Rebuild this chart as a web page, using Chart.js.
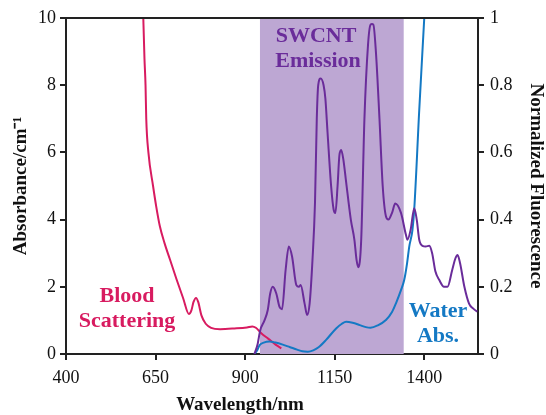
<!DOCTYPE html>
<html><head><meta charset="utf-8">
<script src="https://cdn.jsdelivr.net/npm/chart.js@4"></script>
<style>html,body{margin:0;padding:0;background:#fff}canvas{display:block}</style>
</head><body>
<canvas id="c" width="546" height="415"></canvas>
<script>
// ---- data ----
const xTicks = [400, 650, 900, 1150, 1400];
const yLeftTicks = [0, 2, 4, 6, 8, 10];
const yRightTicks = [0, 0.2, 0.4, 0.6, 0.8, 1];

const emissionWindow = [941, 1343];     // nm, SWCNT emission band
const emissionWindowTop = [10, 10];     // absorbance (full height)

const bloodNm  = [615, 619, 622, 624, 630, 643, 652, 662, 675, 690, 708, 727, 743, 750, 756, 763, 769, 778, 790, 805, 830, 870, 905, 920, 930, 945, 965, 985, 1001];
const bloodAbs = [10.3, 8.8, 8.0, 7.0, 6.0, 5.0, 4.38, 3.8, 3.3, 2.82, 2.24, 1.66, 1.19, 1.3, 1.55, 1.67, 1.55, 1.15, 0.9, 0.78, 0.74, 0.76, 0.79, 0.82, 0.78, 0.62, 0.45, 0.28, 0.17];

const waterNm  = [926, 933, 941, 952, 968, 985, 1005, 1024, 1045, 1060, 1075, 1090, 1105, 1126, 1154, 1170, 1182, 1200, 1220, 1237, 1250, 1270, 1293, 1310, 1321, 1335, 1344, 1352, 1358, 1367, 1372, 1386, 1400, 1410];
const waterAbs = [0, 0.1, 0.27, 0.34, 0.37, 0.34, 0.28, 0.21, 0.13, 0.08, 0.07, 0.11, 0.2, 0.42, 0.76, 0.9, 0.96, 0.93, 0.86, 0.8, 0.78, 0.85, 1.01, 1.25, 1.51, 1.9, 2.2, 2.7, 3.19, 3.69, 4.3, 7.26, 10, 12];

const fluorNm  = [926, 935, 942, 954, 963, 970, 977, 987, 996, 1003, 1013, 1022, 1031, 1043, 1050, 1055, 1066, 1073, 1080, 1088, 1095, 1100, 1104, 1111, 1119, 1124, 1130, 1140, 1147, 1152, 1158, 1163, 1168, 1174, 1181, 1195, 1205, 1211, 1216, 1224, 1233, 1243, 1250, 1254, 1258, 1265, 1275, 1284, 1293, 1300, 1310, 1319, 1335, 1349, 1353, 1362, 1372, 1379, 1386, 1395, 1404, 1414, 1422, 1431, 1442, 1455, 1465, 1478, 1487, 1493, 1500, 1512, 1525, 1537, 1548];
const fluorInt = [0, 0.03, 0.07, 0.1, 0.13, 0.18, 0.2, 0.18, 0.14, 0.133, 0.25, 0.32, 0.29, 0.205, 0.2, 0.205, 0.15, 0.116, 0.15, 0.28, 0.45, 0.7, 0.8, 0.82, 0.8, 0.76, 0.66, 0.5, 0.43, 0.42, 0.5, 0.59, 0.607, 0.58, 0.52, 0.4, 0.34, 0.28, 0.258, 0.34, 0.7, 0.92, 0.98, 0.982, 0.98, 0.9, 0.7, 0.5, 0.41, 0.4, 0.42, 0.448, 0.42, 0.354, 0.34, 0.37, 0.434, 0.4, 0.34, 0.322, 0.32, 0.322, 0.3, 0.246, 0.22, 0.2, 0.2, 0.25, 0.285, 0.295, 0.27, 0.2, 0.15, 0.135, 0.126];

const pts = (xs, ys) => xs.map((x, i) => ({ x, y: ys[i] }));

const SERIF = "'Liberation Serif', 'Times New Roman', serif";
const C_BLOOD = '#d81b60', C_WATER = '#1479c4', C_FLUOR = '#6a2c9a', C_BAND = '#bda7d3', C_AXIS = '#222';

const textPlugin = {
  id: 'texts',
  afterDraw(chart) {
    const ctx = chart.ctx, a = chart.chartArea;
    ctx.save();
    // top frame line
    ctx.strokeStyle = C_AXIS; ctx.lineWidth = 2;
    ctx.beginPath(); ctx.moveTo(a.left - 1, a.top); ctx.lineTo(a.right + 1, a.top); ctx.stroke();
    ctx.textAlign = 'center'; ctx.textBaseline = 'alphabetic';
    ctx.font = 'bold 22px ' + SERIF;
    ctx.fillStyle = C_FLUOR;
    ctx.fillText('SWCNT', 316, 42);
    ctx.fillText('Emission', 318, 67);
    ctx.fillStyle = C_BLOOD;
    ctx.fillText('Blood', 127, 302);
    ctx.fillText('Scattering', 127, 327);
    ctx.fillStyle = C_WATER;
    ctx.fillText('Water', 438, 317);
    ctx.fillText('Abs.', 438, 342);
    // axis titles
    ctx.fillStyle = '#111';
    ctx.font = 'bold 19px ' + SERIF;
    ctx.fillText('Wavelength/nm', 240, 410);
    ctx.save();
    ctx.translate(26, (a.top + a.bottom) / 2);
    ctx.rotate(-Math.PI / 2);
    ctx.fillText('Absorbance/cm\u207B\u00B9', 0, 0);
    ctx.restore();
    ctx.save();
    ctx.translate(531, (a.top + a.bottom) / 2);
    ctx.rotate(Math.PI / 2);
    ctx.fillText('Normalized Fluorescence', 0, 0);
    ctx.restore();
    ctx.restore();
  }
};

const gridCfg = { display: true, drawOnChartArea: false, drawTicks: true, tickLength: 6, color: C_AXIS, lineWidth: 2 };
const borderCfg = { display: true, color: C_AXIS, width: 2 };
const tickFont = { family: SERIF, size: 18 };

new Chart(document.getElementById('c'), {
  type: 'line',
  data: {
    datasets: [
      { label: 'SWCNT Emission', data: pts(fluorNm, fluorInt), yAxisID: 'y2', borderColor: C_FLUOR, borderWidth: 2, pointRadius: 0, cubicInterpolationMode: 'monotone', fill: false },
      { label: 'Water Abs.', data: pts(waterNm, waterAbs), yAxisID: 'y', borderColor: C_WATER, borderWidth: 2, pointRadius: 0, cubicInterpolationMode: 'monotone', fill: false },
      { label: 'Blood Scattering', data: pts(bloodNm, bloodAbs), yAxisID: 'y', borderColor: C_BLOOD, borderWidth: 2, pointRadius: 0, cubicInterpolationMode: 'monotone', fill: false },
      { label: 'Emission window', data: pts(emissionWindow, emissionWindowTop), yAxisID: 'y', borderWidth: 0, borderColor: 'rgba(0,0,0,0)', backgroundColor: C_BAND, pointRadius: 0, tension: 0, fill: 'origin' }
    ]
  },
  options: {
    responsive: false,
    animation: false,
    layout: { padding: { top: 18, left: 0, right: 0, bottom: 0 } },
    plugins: { legend: { display: false }, tooltip: { enabled: false } },
    scales: {
      x: {
        type: 'linear', position: 'bottom', min: 400, max: 1550,
        afterBuildTicks: s => { s.ticks = xTicks.map(v => ({ value: v })); },
        afterFit: s => { s.height = 61; },
        ticks: { font: tickFont, color: '#111', padding: 7, maxRotation: 0, autoSkip: false, callback: v => String(v) },
        grid: gridCfg, border: borderCfg
      },
      y: {
        type: 'linear', position: 'left', min: 0, max: 10,
        afterBuildTicks: s => { s.ticks = yLeftTicks.map(v => ({ value: v })); },
        afterFit: s => { s.width = 66; },
        ticks: { font: tickFont, color: '#111', padding: 4, autoSkip: false, callback: v => String(v) },
        grid: gridCfg, border: borderCfg
      },
      y2: {
        type: 'linear', position: 'right', min: 0, max: 1,
        afterBuildTicks: s => { s.ticks = yRightTicks.map(v => ({ value: v })); },
        afterFit: s => { s.width = 68; },
        ticks: { font: tickFont, color: '#111', padding: 6, autoSkip: false, callback: v => String(v) },
        grid: gridCfg, border: borderCfg
      }
    }
  },
  plugins: [textPlugin]
});
</script>
</body></html>
